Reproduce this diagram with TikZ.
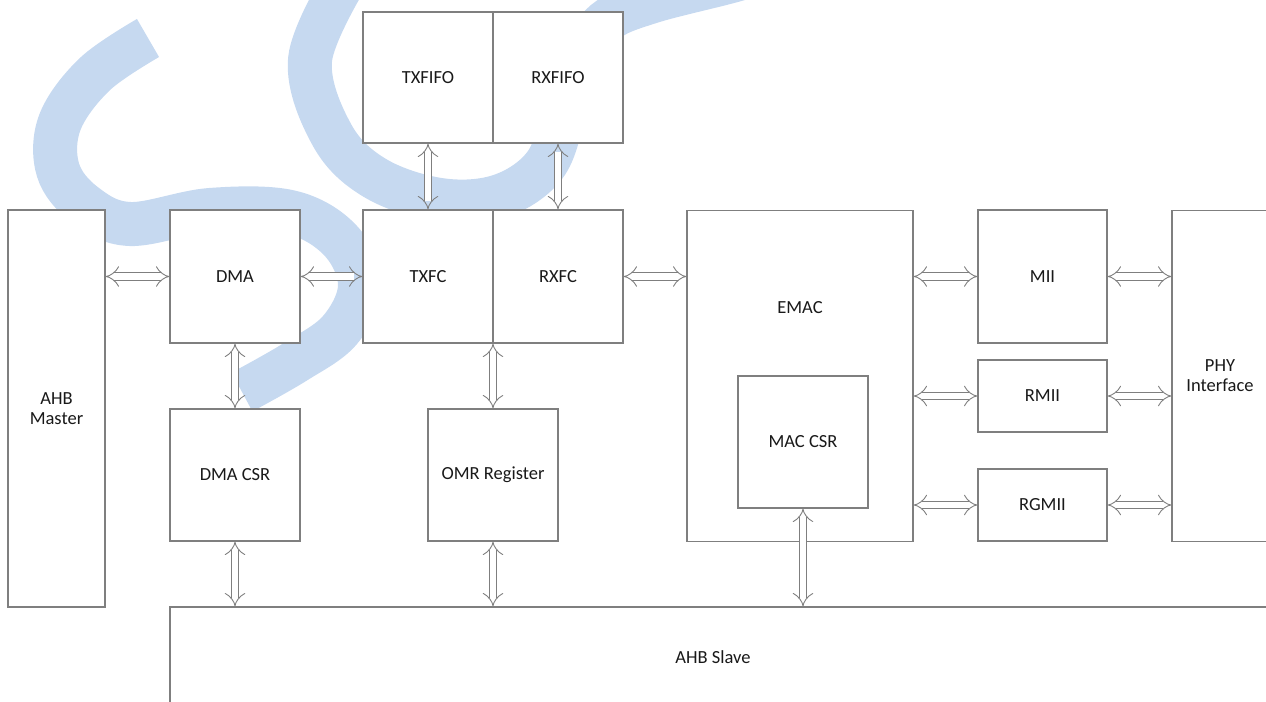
\documentclass[tikz,border=0pt]{standalone}
\usepackage{fontspec}
\setmainfont{Carlito}
\usetikzlibrary{arrows.meta}
\definecolor{wmblue}{HTML}{C6D9F0}
\definecolor{boxgray}{HTML}{7F7F7F}
\begin{document}
\begin{tikzpicture}[x=1bp,y=-1bp,
  box/.style={draw=boxgray, line width=1.1bp, fill=white, inner sep=0pt,
    font=\fontsize{18.5bp}{20bp}\selectfont, align=center, text=black!90},
  lbl/.style={inner sep=0pt, font=\fontsize{18.5bp}{20bp}\selectfont, text=black!90},
  dbl/.style={draw=boxgray, line width=0.9bp, double=white, double distance=6.5bp,
    {Implies}-{Implies}},
  wm/.style={draw=wmblue, line width=44bp, line cap=butt}]
\useasboundingbox (0,0) rectangle (1266,702);
\clip (0,0) rectangle (1266,702);
% watermark
\draw[wm] plot[smooth, tension=0.6] coordinates {(148,38) (95,74) (60,122) (58,170) (85,205) (130,224) (210,210) (290,212) (340,240) (360,285) (340,330) (295,362) (242,392)};
\draw[wm] plot[smooth, tension=0.6] coordinates {(345,-20) (310,60) (332,135) (375,178) (440,200) (500,196) (545,165) (565,110) (580,60) (605,22) (650,2) (735,-20) (800,-40)};
% boxes
\node[box, minimum width=97bp, minimum height=397bp] (ahbm) at (56.5,408.5) {AHB\\Master};
\node[box, minimum width=130bp, minimum height=133bp] (dma) at (235,276.5) {DMA};
\node[box, minimum width=130bp, minimum height=131bp] (txfifo) at (428,77.5) {TXFIFO};
\node[box, minimum width=130bp, minimum height=131bp] (rxfifo) at (558,77.5) {RXFIFO};
\node[box, minimum width=130bp, minimum height=133bp] (txfc) at (428,276.5) {TXFC};
\node[box, minimum width=130bp, minimum height=133bp] (rxfc) at (558,276.5) {RXFC};
\node[box, minimum width=226bp, minimum height=331bp] (emac) at (800,376) {};
\node[lbl] (emaclbl) at (800,308) {EMAC};
\node[box, minimum width=130bp, minimum height=132bp] (maccsr) at (803,442) {MAC CSR};
\node[box, minimum width=129bp, minimum height=133bp] (mii) at (1042.5,276.5) {MII};
\node[box, minimum width=129bp, minimum height=72bp] (rmii) at (1042.5,396) {RMII};
\node[box, minimum width=129bp, minimum height=72bp] (rgmii) at (1042.5,505) {RGMII};
\node[box, minimum width=96bp, minimum height=331bp] (phy) at (1220,376) {PHY\\Interface};
\node[box, minimum width=130bp, minimum height=132bp] (dmacsr) at (235,475) {DMA CSR};
\node[box, minimum width=130bp, minimum height=132bp] (omr) at (493,475) {OMR Register};
\node[box, minimum width=1110bp, minimum height=100bp] (slave) at (725,657) {};
\node[lbl] (slavelbl) at (713,657) {AHB Slave};
% connectors
\draw[dbl] (ahbm.east |- dma.west) -- (dma.west);
\draw[dbl] (dma.east) -- (txfc.west);
\draw[dbl] (rxfc.east) -- (emac.west |- rxfc.east);
\draw[dbl] (emac.east |- mii.west) -- (mii.west);
\draw[dbl] (mii.east) -- (phy.west |- mii.east);
\draw[dbl] (emac.east |- rmii.west) -- (rmii.west);
\draw[dbl] (rmii.east) -- (phy.west |- rmii.east);
\draw[dbl] (emac.east |- rgmii.west) -- (rgmii.west);
\draw[dbl] (rgmii.east) -- (phy.west |- rgmii.east);
\draw[dbl] (txfifo.south) -- (txfc.north);
\draw[dbl] (rxfifo.south) -- (rxfc.north);
\draw[dbl] (dma.south) -- (dmacsr.north);
\draw[dbl] (omr.north |- rxfc.south) -- (omr.north);
\draw[dbl] (dmacsr.south) -- (dmacsr.south |- slave.north);
\draw[dbl] (omr.south) -- (omr.south |- slave.north);
\draw[dbl] (maccsr.south) -- (maccsr.south |- slave.north);
\end{tikzpicture}
\end{document}
